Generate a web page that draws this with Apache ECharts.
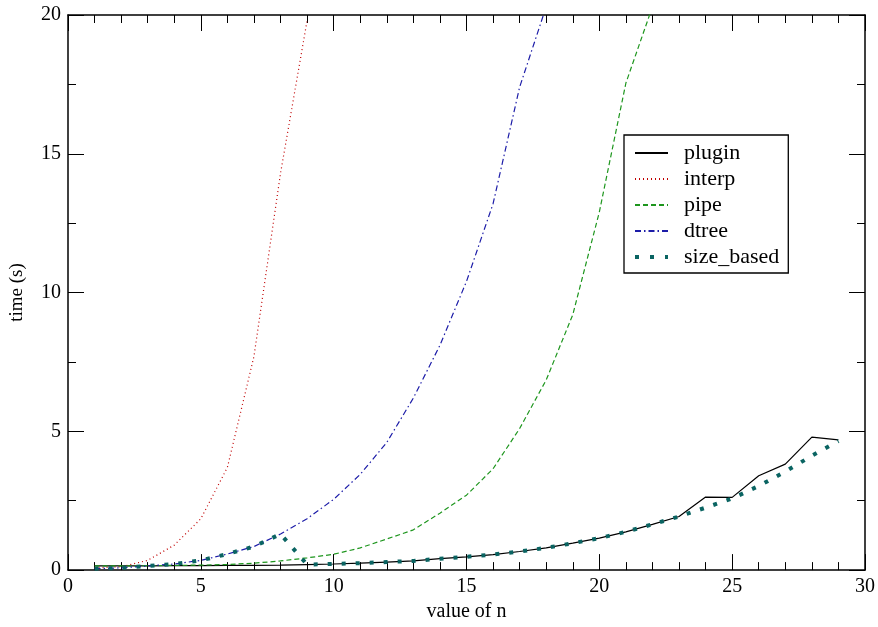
<!DOCTYPE html>
<html>
<head>
<meta charset="utf-8">
<script src="https://cdn.jsdelivr.net/npm/echarts@6/dist/echarts.min.js"></script>
<style>
  html, body { margin: 0; padding: 0; background: #fff; }
  #main { width: 878px; height: 627px; }
</style>
</head>
<body>
<div id="main"></div>
<script>
// values of n and timings (s)
var nValues = [1, 2, 3, 4, 5, 6, 7, 8, 9, 10, 11, 12, 13, 14, 15, 16, 17, 18, 19, 20, 21, 22, 23, 24, 25, 26, 27, 28, 29];
var plugin = [0.15, 0.15, 0.15, 0.16, 0.16, 0.17, 0.17, 0.18, 0.2, 0.22, 0.25, 0.29, 0.33, 0.41, 0.48, 0.56, 0.67, 0.8, 0.97, 1.15, 1.38, 1.65, 1.93, 2.63, 2.62, 3.4, 3.82, 4.79, 4.69];
var interp = [0.08, 0.12, 0.35, 0.9, 1.85, 3.7, 7.7, 14.3, 19.8];
var pipe = [0.15, 0.15, 0.16, 0.17, 0.18, 0.2, 0.25, 0.33, 0.44, 0.57, 0.8, 1.12, 1.45, 2.05, 2.7, 3.65, 5.1, 6.85, 9.2, 12.9, 17.55, 20.3];
var dtree = [0.05, 0.08, 0.15, 0.22, 0.35, 0.58, 0.85, 1.3, 1.85, 2.55, 3.45, 4.6, 6.2, 8.1, 10.4, 13.2, 17.4, 20.3];
var sizeBased = [0.05, 0.08, 0.15, 0.22, 0.35, 0.58, 0.85, 1.3, 0.2, 0.22, 0.25, 0.29, 0.33, 0.41, 0.48, 0.56, 0.67, 0.8, 0.97, 1.15, 1.38, 1.65, 1.93, 2.25, 2.58, 3.03, 3.55, 4.12, 4.65];
var xTicks = [0, 5, 10, 15, 20, 25, 30];
var yTicks = [0, 5, 10, 15, 20];

var serif = 'Liberation Serif';

function pairs(ys) {
  return ys.map(function (y, i) { return [nValues[i], y]; });
}

var chart = echarts.init(document.getElementById('main'));

// tick marks drawn inside, mirrored on the opposite side
function frameAxis(extra) {
  var base = {
    type: 'value',
    axisLine: { show: true, onZero: false, lineStyle: { color: '#000', width: 1.5 } },
    axisTick: { show: true, inside: true, length: 16, lineStyle: { color: '#000', width: 1 } },
    minorTick: { show: true, length: 8, lineStyle: { color: '#000', width: 1 } },
    splitLine: { show: false },
    axisLabel: { show: false }
  };
  return Object.assign(base, extra);
}

var option = {
  animation: false,
  backgroundColor: '#fff',
  grid: { left: 68, right: 12, top: 15, bottom: 55 },
  xAxis: [
    frameAxis({
      position: 'bottom', min: xTicks[0], max: xTicks[xTicks.length - 1], interval: 5,
      minorTick: { show: true, splitNumber: 5, length: 8, lineStyle: { color: '#000' } },
      axisLabel: { show: true, color: '#000', fontFamily: serif, fontSize: 20, margin: 7 },
      name: 'value of n', nameLocation: 'middle', nameGap: 25,
      nameTextStyle: { color: '#000', fontFamily: serif, fontSize: 20 }
    }),
    frameAxis({
      position: 'top', min: xTicks[0], max: xTicks[xTicks.length - 1], interval: 5,
      minorTick: { show: true, splitNumber: 5, length: 8, lineStyle: { color: '#000' } }
    })
  ],
  yAxis: [
    frameAxis({
      position: 'left', min: yTicks[0], max: yTicks[yTicks.length - 1], interval: 5,
      minorTick: { show: true, splitNumber: 2, length: 8, lineStyle: { color: '#000' } },
      axisLabel: { show: true, color: '#000', fontFamily: serif, fontSize: 20, margin: 7 },
      name: 'time (s)', nameLocation: 'middle', nameGap: 41,
      nameTextStyle: { color: '#000', fontFamily: serif, fontSize: 19 }
    }),
    frameAxis({
      position: 'right', min: yTicks[0], max: yTicks[yTicks.length - 1], interval: 5,
      minorTick: { show: true, splitNumber: 2, length: 8, lineStyle: { color: '#000' } }
    })
  ],
  legend: {
    orient: 'vertical',
    left: 624,
    top: 135,
    padding: [5, 9, 3, 9],
    itemGap: 0,
    itemWidth: 33,
    itemHeight: 14,
    borderColor: '#000',
    borderWidth: 1.3,
    backgroundColor: '#fff',
    itemStyle: { opacity: 0 },
    textStyle: { color: '#000', fontFamily: serif, fontSize: 22, lineHeight: 26, padding: [0, 0, 0, 11] },
    data: [
      'plugin', 'interp', 'pipe', 'dtree',
      { name: 'size_based', lineStyle: { width: 4, type: [4, 11] } }
    ]
  },
  series: [
    {
      name: 'plugin', type: 'line', symbol: 'none', data: pairs(plugin),
      lineStyle: { color: '#000', width: 1.2, type: 'solid' }, itemStyle: { color: '#000' }, z: 3
    },
    {
      name: 'interp', type: 'line', symbol: 'none', data: pairs(interp),
      lineStyle: { color: '#c00000', width: 1.2, type: [1, 3] }, itemStyle: { color: '#c00000' }
    },
    {
      name: 'pipe', type: 'line', symbol: 'none', data: pairs(pipe),
      lineStyle: { color: '#1e961e', width: 1.2, type: [5, 3] }, itemStyle: { color: '#1e961e' }
    },
    {
      name: 'dtree', type: 'line', symbol: 'none', data: pairs(dtree),
      lineStyle: { color: '#1c1ca8', width: 1.2, type: [6, 3, 1.5, 3] }, itemStyle: { color: '#1c1ca8' }
    },
    {
      name: 'size_based', type: 'line', symbol: 'none', data: pairs(sizeBased),
      lineStyle: { color: '#0a6462', width: 4, type: [4, 10], cap: 'butt' }, itemStyle: { color: '#0a6462' }, z: 4
    }
  ]
};

chart.setOption(option);
</script>
</body>
</html>
